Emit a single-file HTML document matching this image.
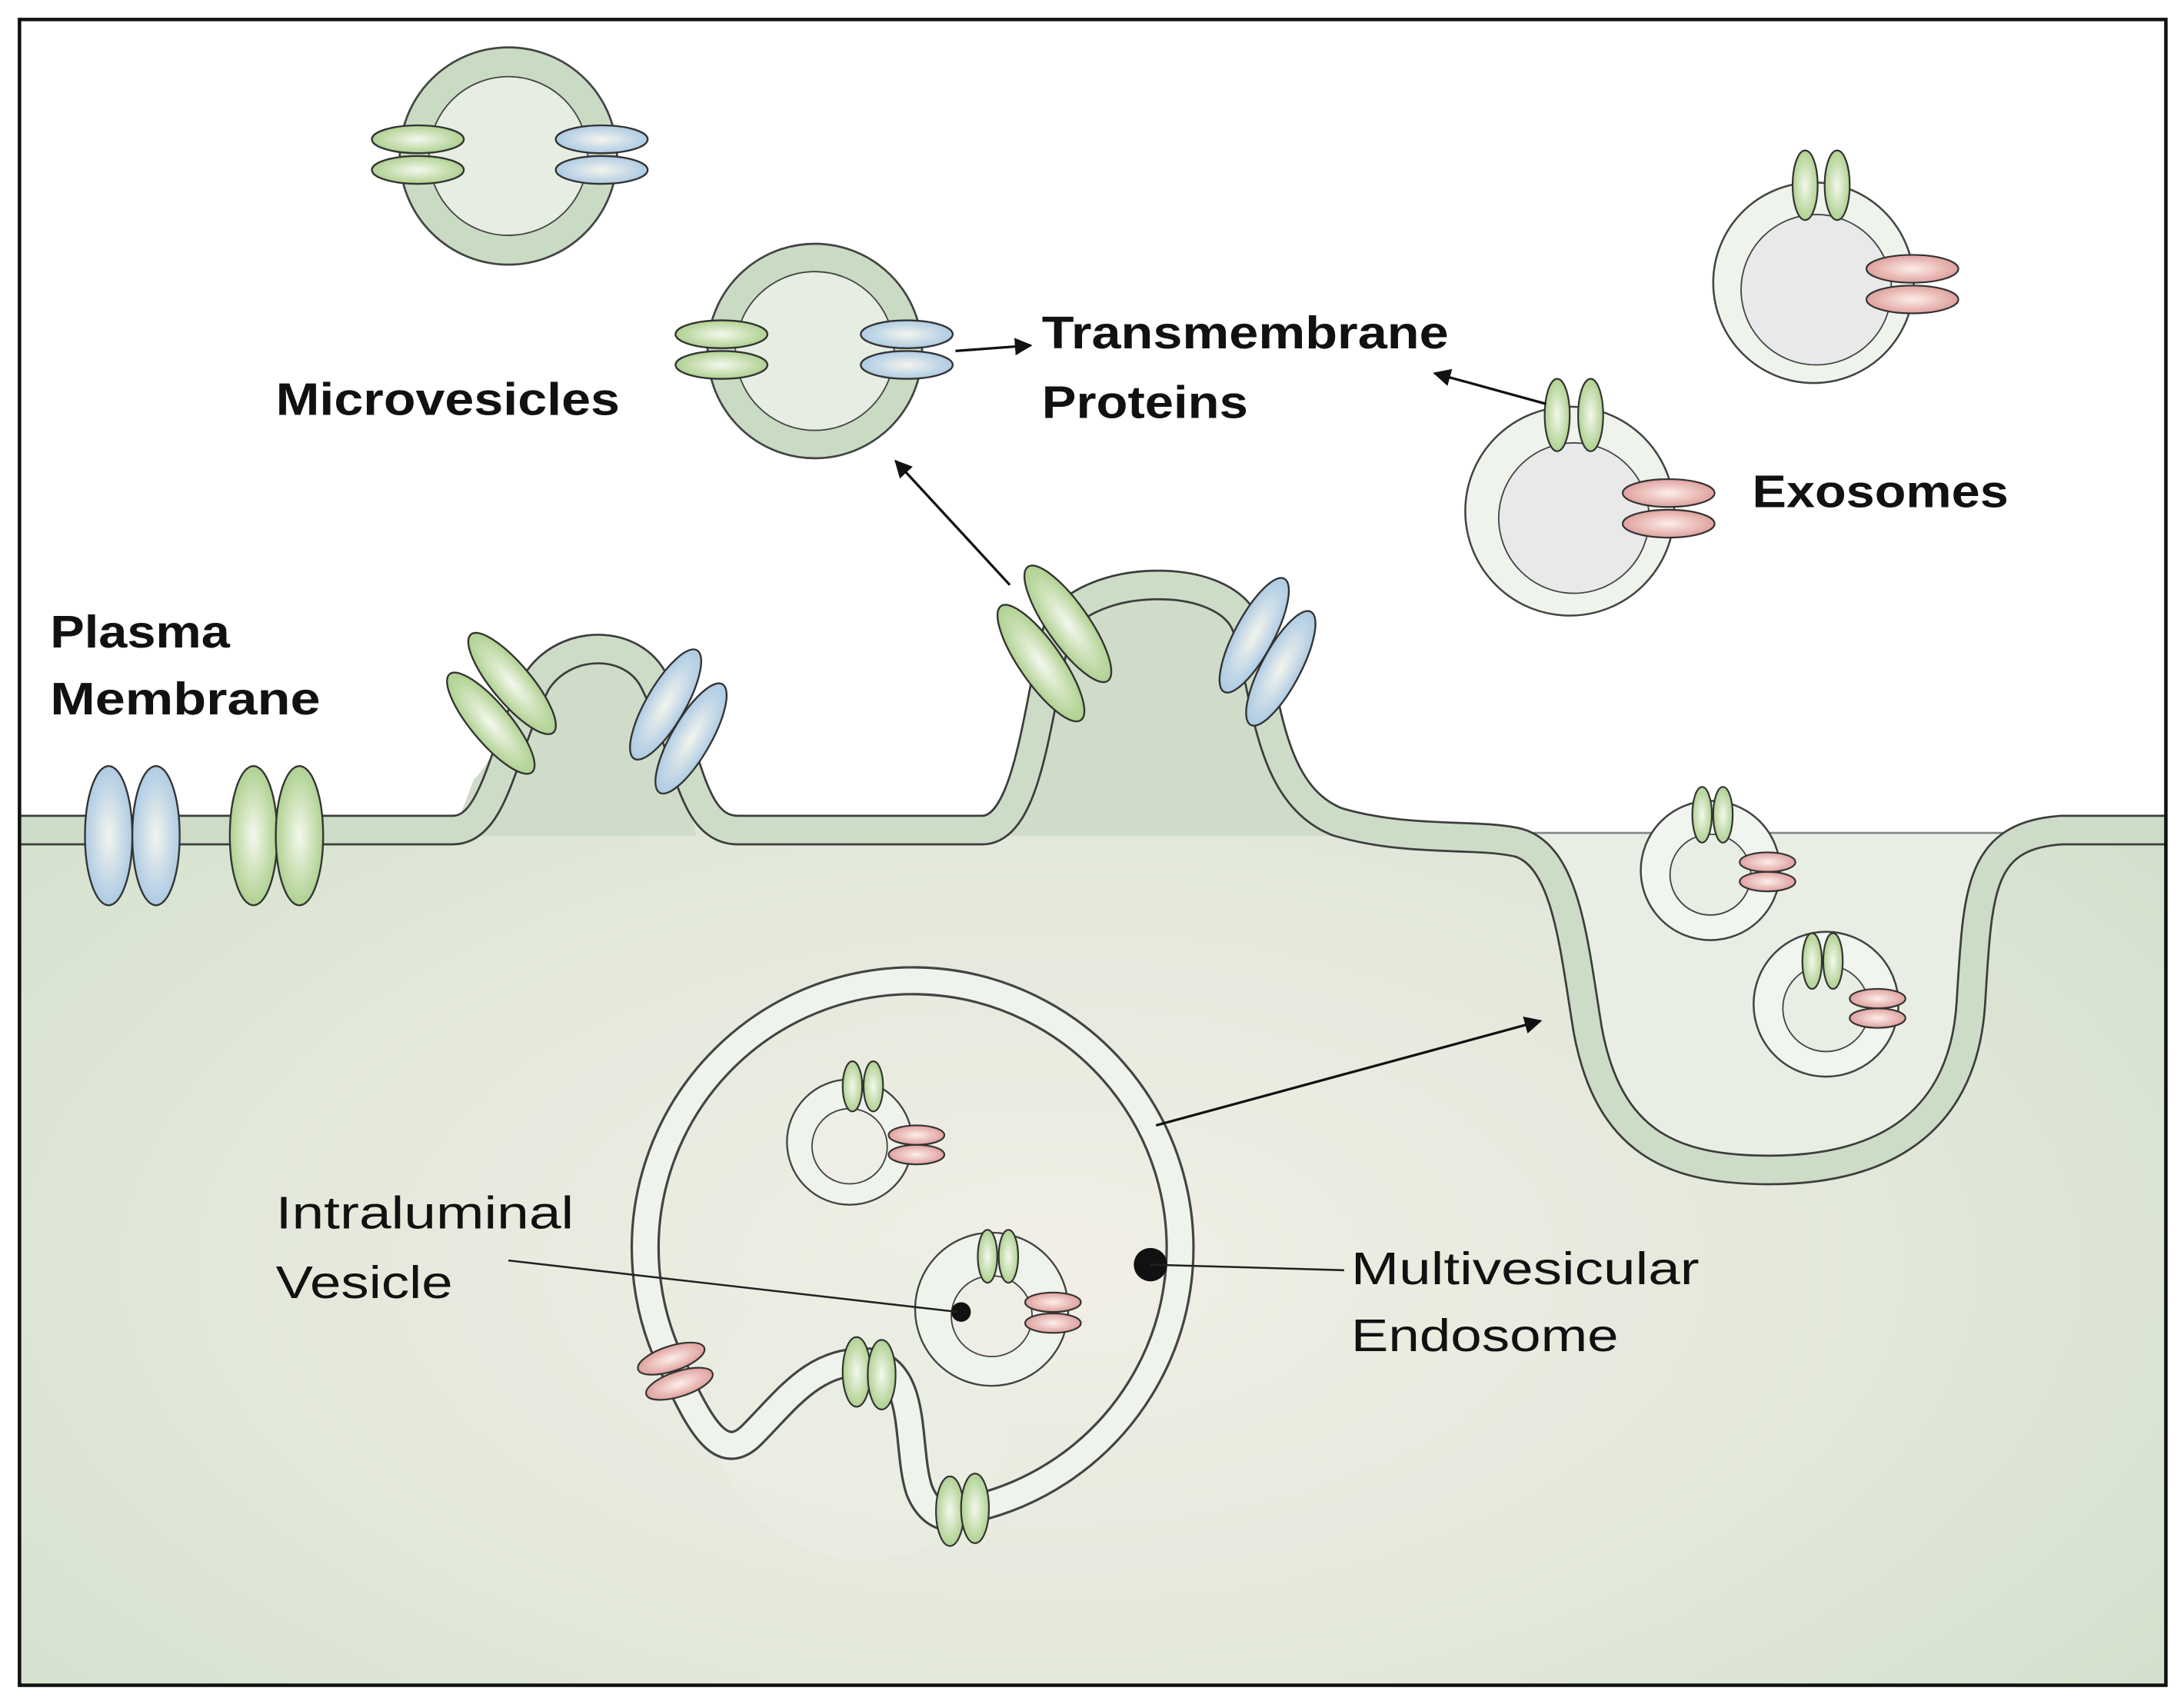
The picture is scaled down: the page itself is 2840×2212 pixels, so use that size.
<!DOCTYPE html>
<html><head><meta charset="utf-8"><style>html,body{margin:0;padding:0;background:#fff}svg{display:block}</style></head>
<body>
<svg width="2840" height="2212" viewBox="0 0 1568 1221.3" preserveAspectRatio="none" xmlns="http://www.w3.org/2000/svg" font-family="Liberation Sans, sans-serif">
<defs>
<radialGradient id="gg" cx="50%" cy="50%" r="50%"><stop offset="0" stop-color="#f4f8ee"/><stop offset="1" stop-color="#afd190"/></radialGradient>
<radialGradient id="bg" cx="50%" cy="50%" r="50%"><stop offset="0" stop-color="#f3f4ec"/><stop offset="1" stop-color="#aecbe4"/></radialGradient>
<radialGradient id="pg" cx="50%" cy="50%" r="50%"><stop offset="0" stop-color="#fdeeea"/><stop offset="1" stop-color="#dfa19d"/></radialGradient>
<radialGradient id="cyt" cx="48%" cy="62%" r="65%"><stop offset="0" stop-color="#f1efe6"/><stop offset="0.6" stop-color="#e2e8da"/><stop offset="1" stop-color="#d3e0cc"/></radialGradient>
<marker id="ah" viewBox="0 0 10 10" refX="9" refY="5" markerWidth="7" markerHeight="7" orient="auto-start-reverse"><path d="M0,0L10,5L0,10z" fill="#111"/></marker>
</defs>
<rect x="0" y="0" width="1568" height="1222" fill="#fff"/>
<rect x="1070" y="598" width="420" height="270" fill="#e9eee5"/>
<line x1="1060" y1="598" x2="1480" y2="598" stroke="#888" stroke-width="1.5"/>
<path d="M14,596 L325,596 C355,596 360,540 385,490 C405,458 455,458 470,490 C495,540 495,596 530,596 L705,596 C740,596 745,500 760,450 C780,412 880,408 895,450 C910,500 910,570 960,590 C1010,605 1060,598 1090,605 C1125,615 1130,680 1140,740 C1155,820 1200,840 1270,840 C1360,840 1410,800 1415,720 C1420,640 1420,600 1480,596 L1555,596 L1555,1210 L14,1210 Z" fill="url(#cyt)"/>
<path d="M325,600 L340,560 C360,540 380,480 400,465 C430,450 460,470 480,510 L500,600 Z M705,600 C740,596 745,500 760,450 C780,412 880,408 895,450 C910,500 910,570 960,590 L960,600 Z" fill="#cfdcc9"/>
<g fill="none">
<path d="M14,596 L325,596 C355,596 360,540 385,490 C405,458 455,458 470,490 C495,540 495,596 530,596 L705,596 C740,596 745,500 760,450 C780,412 880,408 895,450 C910,500 910,570 960,590 C1010,605 1060,598 1090,605 C1125,615 1130,680 1140,740 C1155,820 1200,840 1270,840 C1360,840 1410,800 1415,720 C1420,640 1420,600 1480,596 L1555,596" stroke="#3d3d3d" stroke-width="22"/>
<path d="M14,596 L325,596 C355,596 360,540 385,490 C405,458 455,458 470,490 C495,540 495,596 530,596 L705,596 C740,596 745,500 760,450 C780,412 880,408 895,450 C910,500 910,570 960,590 C1010,605 1060,598 1090,605 C1125,615 1130,680 1140,740 C1155,820 1200,840 1270,840 C1360,840 1410,800 1415,720 C1420,640 1420,600 1480,596 L1555,596" stroke="#cddcc7" stroke-width="19"/>
</g>
<rect x="14" y="14" width="1541" height="1196" fill="none" stroke="#111" stroke-width="2.5"/>

<g stroke="#333" stroke-width="1.3">
<ellipse cx="78" cy="600" rx="17" ry="50" fill="url(#bg)"/>
<ellipse cx="112" cy="600" rx="17" ry="50" fill="url(#bg)"/>
<ellipse cx="182" cy="600" rx="17" ry="50" fill="url(#gg)"/>
<ellipse cx="215" cy="600" rx="17" ry="50" fill="url(#gg)"/>
<g transform="translate(360,505) rotate(50)"><ellipse cx="-6" cy="-15" rx="46" ry="14" fill="url(#gg)"/><ellipse cx="6" cy="15" rx="46" ry="14" fill="url(#gg)"/></g>
<g transform="translate(487,518) rotate(-60)"><ellipse cx="6" cy="-14" rx="45" ry="14" fill="url(#bg)"/><ellipse cx="-6" cy="14" rx="45" ry="14" fill="url(#bg)"/></g>
<g transform="translate(757,462) rotate(55)"><ellipse cx="-6" cy="-16" rx="50" ry="15" fill="url(#gg)"/><ellipse cx="6" cy="16" rx="50" ry="15" fill="url(#gg)"/></g>
<g transform="translate(910,468) rotate(-62)"><ellipse cx="6" cy="-14" rx="46" ry="14" fill="url(#bg)"/><ellipse cx="-6" cy="14" rx="46" ry="14" fill="url(#bg)"/></g>
</g>

<g stroke="#444" stroke-width="1.5">
<circle cx="365" cy="112" r="78" fill="#c9dbc3"/><circle cx="365" cy="112" r="57" fill="#e6ede2" stroke-width="1"/>
<circle cx="585" cy="252" r="77" fill="#c9dbc3"/><circle cx="585" cy="252" r="57" fill="#e6ede2" stroke-width="1"/>
</g>
<g stroke="#333" stroke-width="1.3">
<ellipse cx="300" cy="100" rx="33" ry="10" fill="url(#gg)"/><ellipse cx="300" cy="122" rx="33" ry="10" fill="url(#gg)"/>
<ellipse cx="432" cy="100" rx="33" ry="10" fill="url(#bg)"/><ellipse cx="432" cy="122" rx="33" ry="10" fill="url(#bg)"/>
<ellipse cx="518" cy="240" rx="33" ry="10" fill="url(#gg)"/><ellipse cx="518" cy="262" rx="33" ry="10" fill="url(#gg)"/>
<ellipse cx="651" cy="240" rx="33" ry="10" fill="url(#bg)"/><ellipse cx="651" cy="262" rx="33" ry="10" fill="url(#bg)"/>
</g>

<g stroke="#444" stroke-width="1.4">
<circle cx="1302" cy="203" r="72" fill="#eef4ec"/><circle cx="1304" cy="208" r="54" fill="#e9e9e9" stroke-width="1"/>
<circle cx="1127" cy="367" r="75" fill="#eef4ec"/><circle cx="1130" cy="372" r="54" fill="#e9e9e9" stroke-width="1"/>
<circle cx="1228" cy="625" r="50" fill="#f0f5ef"/><circle cx="1228" cy="628" r="29" fill="#e8eee4" stroke-width="1"/>
<circle cx="1311" cy="721" r="52" fill="#f0f5ef"/><circle cx="1311" cy="724" r="31" fill="#e8eee4" stroke-width="1"/>
</g>
<g stroke="#333" stroke-width="1.2">
<ellipse cx="1296" cy="133" rx="9" ry="25" fill="url(#gg)"/><ellipse cx="1319" cy="133" rx="9" ry="25" fill="url(#gg)"/>
<ellipse cx="1373" cy="193" rx="33" ry="10" fill="url(#pg)"/><ellipse cx="1373" cy="215" rx="33" ry="10" fill="url(#pg)"/>
<ellipse cx="1118" cy="298" rx="9" ry="26" fill="url(#gg)"/><ellipse cx="1142" cy="298" rx="9" ry="26" fill="url(#gg)"/>
<ellipse cx="1198" cy="354" rx="33" ry="10" fill="url(#pg)"/><ellipse cx="1198" cy="376" rx="33" ry="10" fill="url(#pg)"/>
<ellipse cx="1222" cy="585" rx="7" ry="20" fill="url(#gg)"/><ellipse cx="1237" cy="585" rx="7" ry="20" fill="url(#gg)"/>
<ellipse cx="1269" cy="619" rx="20" ry="7" fill="url(#pg)"/><ellipse cx="1269" cy="633" rx="20" ry="7" fill="url(#pg)"/>
<ellipse cx="1301" cy="690" rx="7" ry="20" fill="url(#gg)"/><ellipse cx="1316" cy="690" rx="7" ry="20" fill="url(#gg)"/>
<ellipse cx="1348" cy="717" rx="20" ry="7" fill="url(#pg)"/><ellipse cx="1348" cy="731" rx="20" ry="7" fill="url(#pg)"/>
</g>

<circle cx="620" cy="1010" r="110" fill="#e9eee3" opacity="0.7"/>
<g fill="none">
<path d="M485,985 A192,192 0 1,1 690,1085" stroke="#444" stroke-width="21"/>
<path d="M485,985 A192,192 0 1,1 690,1085" stroke="#eef4ec" stroke-width="17.5"/>
<path d="M485,985 C505,1030 520,1050 540,1030 C565,1005 585,975 625,978 C660,985 650,1040 660,1070 C670,1095 690,1090 690,1085" stroke="#444" stroke-width="21"/>
<path d="M485,985 C505,1030 520,1050 540,1030 C565,1005 585,975 625,978 C660,985 650,1040 660,1070 C670,1095 690,1090 690,1085" stroke="#eef4ec" stroke-width="17.5"/>
</g>
<g stroke="#444" stroke-width="1.3">
<circle cx="610" cy="820" r="45" fill="#eef4ec"/><circle cx="610" cy="823" r="27" fill="#eeeee6" stroke-width="1"/>
<circle cx="712" cy="940" r="55" fill="#eef4ec"/><circle cx="712" cy="945" r="29" fill="#eeeee6" stroke-width="1"/>
</g>
<g stroke="#333" stroke-width="1.2">
<ellipse cx="612" cy="780" rx="7" ry="18" fill="url(#gg)"/><ellipse cx="627" cy="780" rx="7" ry="18" fill="url(#gg)"/>
<ellipse cx="658" cy="815" rx="20" ry="7" fill="url(#pg)"/><ellipse cx="658" cy="829" rx="20" ry="7" fill="url(#pg)"/>
<ellipse cx="709" cy="902" rx="7" ry="19" fill="url(#gg)"/><ellipse cx="724" cy="902" rx="7" ry="19" fill="url(#gg)"/>
<ellipse cx="756" cy="935" rx="20" ry="7" fill="url(#pg)"/><ellipse cx="756" cy="950" rx="20" ry="7" fill="url(#pg)"/>
<g transform="translate(485,985) rotate(-18)"><ellipse cx="0" cy="-10" rx="25" ry="9" fill="url(#pg)"/><ellipse cx="0" cy="9" rx="25" ry="9" fill="url(#pg)"/></g>
<ellipse cx="615" cy="985" rx="10" ry="25" fill="url(#gg)"/><ellipse cx="633" cy="987" rx="10" ry="25" fill="url(#gg)"/>
<ellipse cx="682" cy="1085" rx="10" ry="25" fill="url(#gg)"/><ellipse cx="700" cy="1083" rx="10" ry="25" fill="url(#gg)"/>
</g>
<circle cx="690" cy="942" r="7" fill="#111"/>
<circle cx="826" cy="908" r="12" fill="#111"/>
<g stroke="#222" stroke-width="1.4">
<line x1="365" y1="905" x2="688" y2="942"/>
<line x1="826" y1="908" x2="965" y2="912"/>
</g>
<g stroke="#111" stroke-width="1.8" marker-end="url(#ah)">
<line x1="830" y1="808" x2="1106" y2="733"/>
<line x1="725" y1="420" x2="643" y2="331"/>
<line x1="686" y1="252" x2="740" y2="248"/>
<line x1="1110" y1="290" x2="1030" y2="268"/>
</g>

<g font-size="33" fill="#111" font-weight="bold">
<text x="198" y="298" textLength="247" lengthAdjust="spacingAndGlyphs">Microvesicles</text>
<text x="748" y="250" textLength="292" lengthAdjust="spacingAndGlyphs">Transmembrane</text>
<text x="748" y="300" textLength="148" lengthAdjust="spacingAndGlyphs">Proteins</text>
<text x="1258" y="364" textLength="184" lengthAdjust="spacingAndGlyphs">Exosomes</text>
<text x="36" y="465" textLength="129" lengthAdjust="spacingAndGlyphs">Plasma</text>
<text x="36" y="513" textLength="194" lengthAdjust="spacingAndGlyphs">Membrane</text>
</g>
<g font-size="33" fill="#111">
<text x="198" y="882" textLength="214" lengthAdjust="spacingAndGlyphs">Intraluminal</text>
<text x="198" y="932" textLength="127" lengthAdjust="spacingAndGlyphs">Vesicle</text>
<text x="970" y="922" textLength="250" lengthAdjust="spacingAndGlyphs">Multivesicular</text>
<text x="970" y="970" textLength="192" lengthAdjust="spacingAndGlyphs">Endosome</text>
</g>
</svg>
</body></html>
